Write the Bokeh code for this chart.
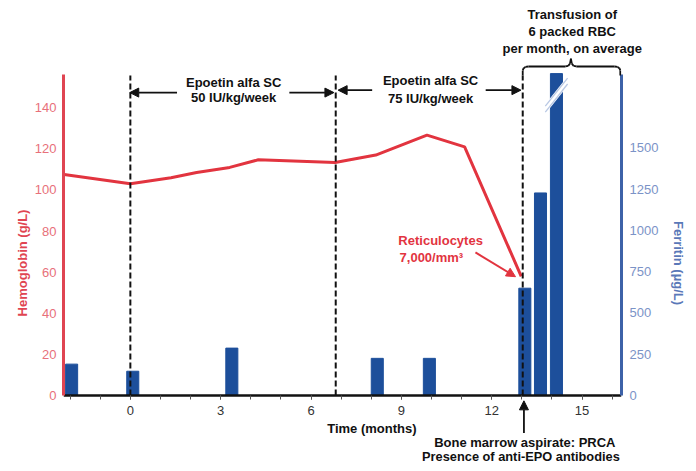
from bokeh.plotting import figure
from bokeh.models import Range1d, LinearAxis, FixedTicker, Label, Arrow, NormalHead, Title
from bokeh.embed import file_html
from bokeh.resources import INLINE

FONT = "Liberation Sans"

# ---- data ----
hb_months = [-2.2, 0.0, 1.35, 2.2, 3.3, 4.25, 6.8, 8.15, 9.85, 11.1, 12.98]
hb_values = [107.5, 103.0, 106.0, 108.5, 111.0, 114.7, 113.4, 117.0, 126.7, 121.0, 58.0]

ferritin_months = [-1.95, 0.08, 3.37, 8.2, 9.93, 13.1, 13.62, 14.15]
ferritin_values = [190, 147, 287, 225, 225, 650, 1227, 1950]

event_months = [0.0, 6.82, 13.03]

x_major_ticks = [0, 3, 6, 9, 12, 15]
x_minor_ticks = list(range(-2, 17))
hb_ticks = [0, 20, 40, 60, 80, 100, 120, 140]
ferritin_ticks = [0, 250, 500, 750, 1000, 1250, 1500]

transfusion_lines = ["per month, on average", "6 packed RBC", "Transfusion of"]
transfusion_offsets = [439, 465, 464]   # px from the plot-area left edge

HB_MAX = 156.4          # top of the hemoglobin axis
FER_PER_HB = 12.449     # ferritin units per hemoglobin unit (shared plot area)
FER_MAX = HB_MAX * FER_PER_HB

RED = "#e2343f"
RED_AXIS = "#e04552"
RED_LABEL = "#e8707a"
BLUE = "#1d4f9b"
BLUE_AXIS = "#3d62a8"
BLUE_LABEL = "#7b93c7"
BLACK = "#111111"

W, H = 694, 470
HB_LO, HB_HI = -36.5, 165.45

p = figure(width=W, height=H, x_range=Range1d(-2.22, 16.31), y_range=Range1d(HB_LO, HB_HI),
           output_backend="svg", toolbar_location=None, title=None, x_axis_location=None,
           min_border_left=63, min_border_right=W - 621, min_border_top=55, min_border_bottom=0)
p.extra_y_ranges = {"fer": Range1d(HB_LO * FER_PER_HB, HB_HI * FER_PER_HB)}
p.outline_line_color = None
p.grid.visible = False
p.background_fill_color = "white"
p.border_fill_color = "white"

# left axis (hemoglobin)
ya = p.yaxis[0]
ya.bounds = (0, HB_MAX)
ya.ticker = FixedTicker(ticks=hb_ticks)
ya.axis_line_color = RED_AXIS
ya.axis_line_width = 3
ya.major_tick_line_color = None
ya.minor_tick_line_color = None
ya.major_tick_out = 0
ya.major_label_standoff = 7
ya.major_label_text_font = FONT
ya.major_label_text_font_size = "13px"
ya.major_label_text_color = RED_LABEL
ya.axis_label = "Hemoglobin (g/L)"
ya.axis_label_text_font = FONT
ya.axis_label_text_font_size = "13px"
ya.axis_label_text_font_style = "bold"
ya.axis_label_text_color = RED_AXIS
ya.axis_label_standoff = 2

# right axis (ferritin)
ra = LinearAxis(y_range_name="fer", ticker=FixedTicker(ticks=ferritin_ticks), bounds=(0, FER_MAX))
ra.axis_line_color = BLUE_AXIS
ra.axis_line_width = 3
ra.major_tick_line_color = None
ra.minor_tick_line_color = None
ra.major_tick_out = 0
ra.major_label_standoff = 8
ra.major_label_text_font = FONT
ra.major_label_text_font_size = "13px"
ra.major_label_text_color = BLUE_LABEL
ra.axis_label = "Ferritin (\u00b5g/L)"
ra.axis_label_text_font = FONT
ra.axis_label_text_font_size = "13px"
ra.axis_label_text_font_style = "bold"
ra.axis_label_text_color = "#5a78b8"
ra.axis_label_standoff = 10
p.add_layout(ra, "right")

# transfusion note above the plot area
for txt, off in zip(transfusion_lines, transfusion_offsets):
    p.add_layout(Title(text=txt, align="left", offset=off, standoff=0,
                       text_font=FONT, text_font_size="13px", text_font_style="bold",
                       text_color=BLACK), "above")

# time axis pinned at hemoglobin 0, labels drawn below its line
xa = LinearAxis(ticker=FixedTicker(ticks=x_major_ticks, minor_ticks=x_minor_ticks), fixed_location=0)
xa.axis_line_color = BLACK
xa.axis_line_width = 2.5
xa.major_tick_out = 0
xa.major_tick_in = 4
xa.minor_tick_out = 0
xa.minor_tick_in = 4
xa.major_tick_line_color = "#555555"
xa.minor_tick_line_color = "#555555"
xa.major_label_standoff = -20
xa.major_label_text_font = FONT
xa.major_label_text_font_size = "13px"
xa.major_label_text_color = "#333333"
p.add_layout(xa, "above")

# ferritin bars
p.vbar(x=ferritin_months, top=ferritin_values, bottom=0, width=0.4, y_range_name="fer",
       fill_color=BLUE, line_color=BLUE)

# axis break marks on the tallest bar
bx0, bx1 = 13.78, 14.52
by0, by1 = 1735, 1905
p.segment(x0=[bx0], y0=[by0], x1=[bx1], y1=[by1], y_range_name="fer", line_color="white", line_width=6)
p.segment(x0=[bx0, bx0], y0=[by0 - 18, by0 + 18], x1=[bx1, bx1], y1=[by1 - 18, by1 + 18],
          y_range_name="fer", line_color="#b9c8e4", line_width=1.3)

# hemoglobin line
p.line(hb_months, hb_values, line_color=RED, line_width=3)

# dashed event lines
p.segment(x0=event_months, y0=[0] * 3, x1=event_months, y1=[155.7] * 3,
          line_color=BLACK, line_width=2, line_dash="6 3")


def lab(x, y, text, color=BLACK, align="center", size="13px"):
    p.add_layout(Label(x=x, y=y, text=text, text_align=align, text_baseline="middle",
                       text_font=FONT, text_font_size=size, text_font_style="bold",
                       text_color=color))


def arrow(x0, y0, x1, y1, color=BLACK, head=True, width=1.8):
    end = NormalHead(size=9, fill_color=color, line_color=color) if head else None
    p.add_layout(Arrow(end=end, x_start=x0, y_start=y0, x_end=x1, y_end=y1,
                       line_color=color, line_width=width))


# epoetin periods
lab(3.43, 152.5, "Epoetin alfa SC")
lab(3.43, 144.9, "50 IU/kg/week")
arrow(1.55, 147.4, -0.02, 147.4)
arrow(5.28, 147.4, 6.76, 147.4)
lab(9.97, 153.3, "Epoetin alfa SC")
lab(9.97, 144.7, "75 IU/kg/week")
arrow(8.03, 148.6, 6.9, 148.6)
arrow(11.8, 148.6, 12.97, 148.6)

# transfusion brace
brace = [(13.03, 155.7), (13.03, 158.2), (13.06, 159.3), (13.12, 159.9), (13.22, 160.1),
         (14.45, 160.1), (14.54, 160.4), (14.6, 161.5), (14.63, 163.9),
         (14.66, 161.5), (14.72, 160.4), (14.81, 160.1),
         (16.08, 160.1), (16.18, 159.9), (16.24, 159.3), (16.27, 158.2), (16.27, 155.7)]
for (xa0, ya0), (xa1, ya1) in zip(brace[:-1], brace[1:]):
    arrow(xa0, ya0, xa1, ya1, head=False, width=1.8)

# reticulocytes
lab(8.9, 75.4, "Reticulocytes", color=RED, align="left")
lab(8.94, 67.3, "7,000/mm\u00b3", color=RED, align="left")
arrow(11.46, 69.6, 12.79, 57.8, color=RED, width=2)

# below the time axis
lab(8.02, -16.2, "Time (months)")
arrow(13.07, -18.3, 13.07, -2.6)
lab(13.1, -22.7, "Bone marrow aspirate: PRCA")
lab(12.97, -29.5, "Presence of anti-EPO antibodies", size="12.8px")

open("out.html", "w").write(file_html(p, INLINE))
